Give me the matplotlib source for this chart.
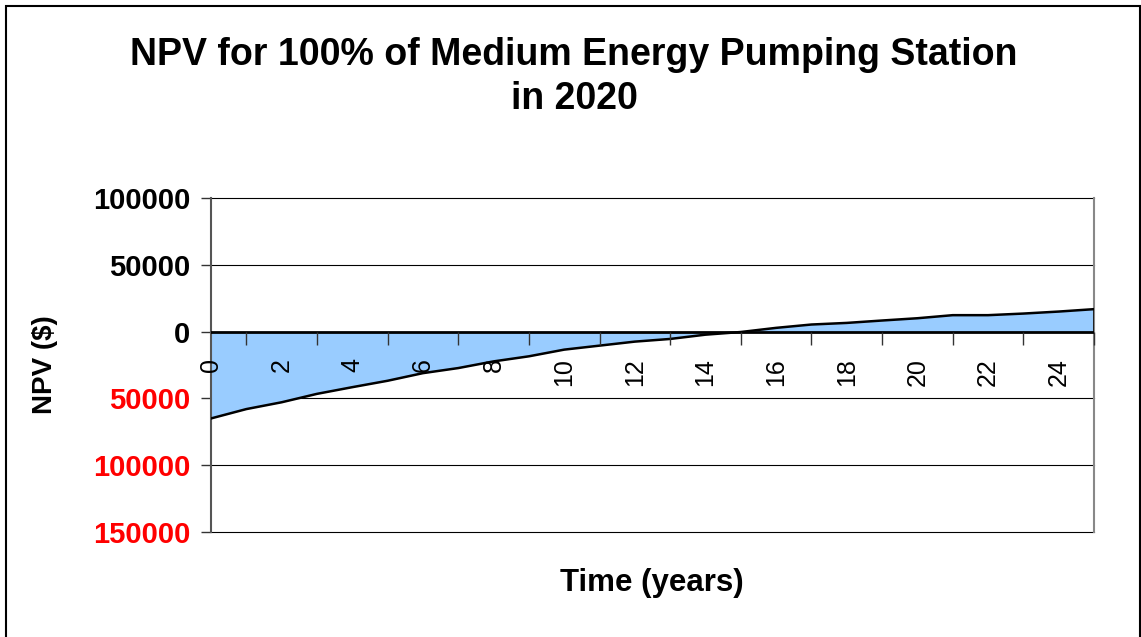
import numpy as np
import matplotlib.pyplot as plt
import matplotlib.ticker as mticker
from matplotlib.patches import Rectangle

plt.rcParams['font.family'] = ['Liberation Sans', 'DejaVu Sans']

# donnees
years = list(range(0, 26))
npv = [-65000, -58000, -52900, -46600, -41600, -36800, -31100, -27300, -22300, -18500,
       -13500, -10500, -7500, -5500, -2300, -300, 2800, 5300, 6500, 8300,
       10000, 12300, 12300, 13500, 15000, 16800]
y_ticks = [-150000, -100000, -50000, 0, 50000, 100000]
x_labels = list(range(0, 25, 2))

fig = plt.figure(figsize=(11.41, 6.37), dpi=100)
ax = fig.add_axes([211 / 1141, 1 - 532 / 637, (1094 - 211) / 1141, (532 - 198) / 637])

# aire
ax.fill_between(years, npv, 0, color='#99CCFF', lw=0, zorder=2)
ax.plot(years, npv, color='black', lw=1.8, zorder=4)
ax.plot([years[-1], years[-1]], [0, npv[-1]], color='black', lw=1.8, zorder=4)
ax.axhline(0, color='black', lw=2, zorder=5)

ax.set_xlim(0, 25)
ax.set_ylim(-150000, 100000)

# grille horizontale
for v in y_ticks:
    if v != 0:
        ax.axhline(v, color='black', lw=0.8, zorder=1, clip_on=False)

ax.set_yticks(y_ticks)
ax.set_yticklabels([str(abs(v)) for v in y_ticks], fontsize=21, fontweight='bold')
for lab, v in zip(ax.get_yticklabels(), y_ticks):
    lab.set_color('red' if v < 0 else 'black')
ax.tick_params(axis='y', length=7, width=1, pad=8, color='#333333')

# axe x au niveau du zero
ax.spines['bottom'].set_position(('data', 0))
ax.spines['bottom'].set_visible(False)
ax.spines['top'].set_visible(False)
ax.spines['left'].set_color('#555555')
ax.spines['right'].set_color('#888888')
ax.spines['left'].set_linewidth(1.5)
ax.spines['right'].set_linewidth(1.5)
ax.set_xticks(years, minor=True)
ax.set_xticks(x_labels)
ax.set_xticklabels([str(v) for v in x_labels], rotation=90, fontsize=18)
ax.tick_params(axis='x', which='minor', direction='out', length=9, width=1, color='#333333')
ax.tick_params(axis='x', which='major', length=0, pad=19)
ax.xaxis.set_zorder(6)

fig.text(652 / 1141, 1 - 583 / 637, 'Time (years)', fontsize=22.5, fontweight='bold',
         ha='center', va='center')
fig.text(45 / 1141, 1 - 365 / 637, 'NPV ($)', fontsize=20, fontweight='bold',
         ha='center', va='center', rotation=90)
fig.text(574 / 1141, 1 - 77 / 637, 'NPV for 100% of Medium Energy Pumping Station\nin 2020',
         fontsize=27, fontweight='bold', ha='center', va='center', linespacing=1.3)

fig.patches.append(Rectangle((6 / 1141, -0.02), 1134 / 1141, 1.02 - 6.5 / 637,
                             transform=fig.transFigure, fill=False, edgecolor='black', lw=1.5))

fig.savefig('out.png', dpi=100)
